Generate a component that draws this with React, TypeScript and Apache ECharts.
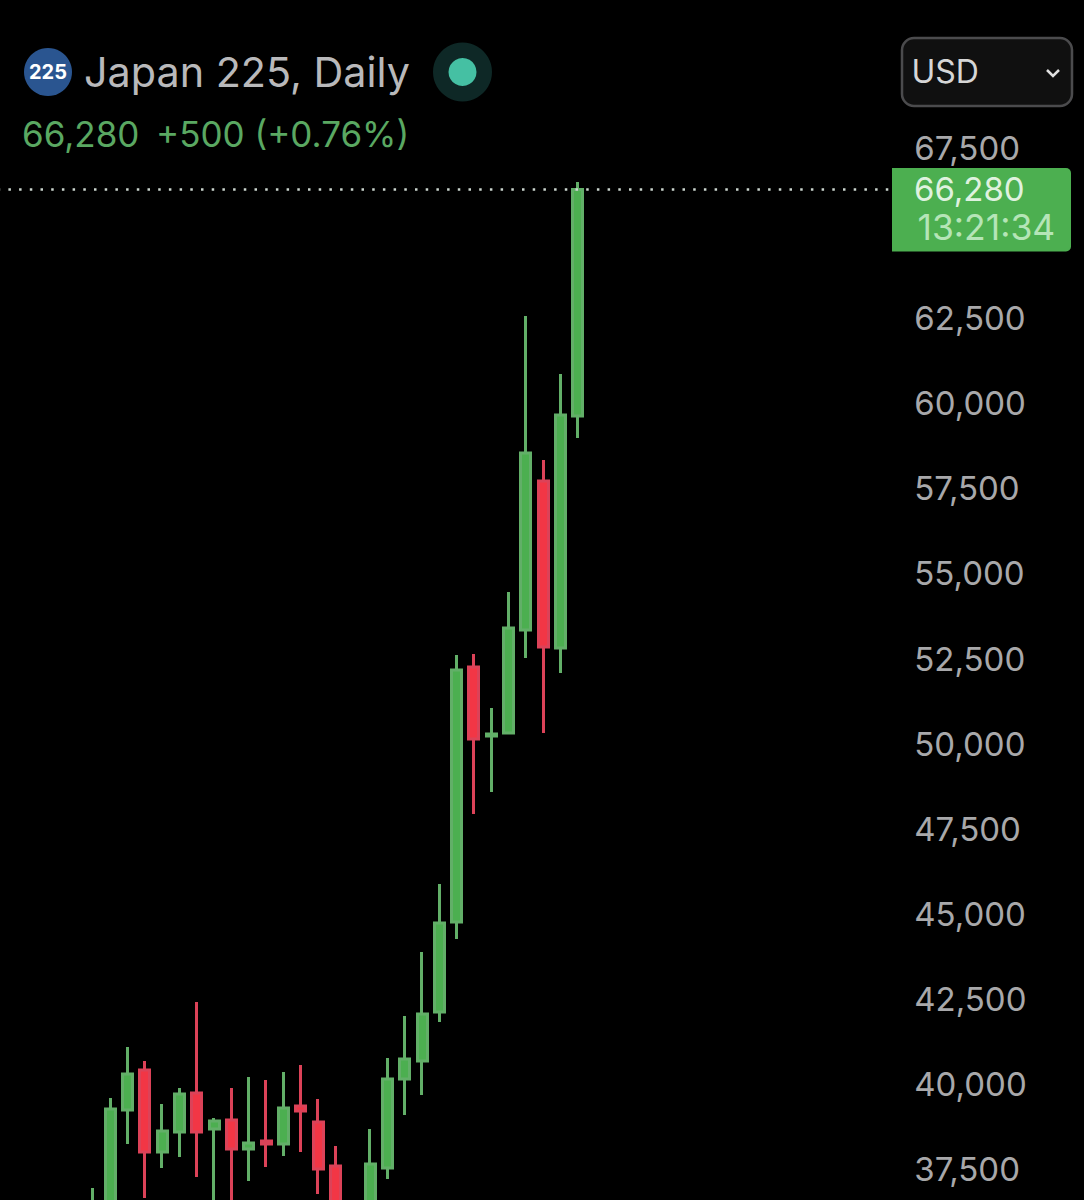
import React, { useEffect, useRef } from "react";
import * as echarts from "echarts";

const priceTicks = [37500, 40000, 42500, 45000, 47500, 50000, 52500, 55000, 57500, 60000, 62500, 67500];
const lastPrice = 66280;

const opens = [36300, 36300, 39236, 40412, 38002, 38590, 39736, 38678, 38943, 38091, 38326, 38238, 39354, 38884, 37591, 36300, 36300, 37532, 40147, 40676, 42116, 44760, 52252, 50225, 50313, 53339, 57716, 52810, 59626];
const closes = [36450, 39266, 40294, 38002, 38619, 39707, 38590, 38913, 38091, 38267, 38238, 39295, 39207, 37503, 36300, 36200, 37650, 40147, 40735, 42057, 44730, 52164, 50136, 50283, 53398, 58539, 52839, 59656, 66280];
const lows = [36100, 36000, 38238, 36651, 37532, 37856, 37268, 36300, 36300, 37150, 37562, 37885, 38002, 36769, 36000, 35800, 36000, 37210, 39090, 39677, 41822, 44260, 47933, 48579, 50283, 52516, 50313, 52075, 58980];
const highs = [36945, 39589, 41088, 40676, 39413, 39883, 42409, 39001, 39883, 40206, 40118, 40353, 40559, 39560, 38179, 36400, 38678, 40764, 41998, 43878, 45876, 52604, 52634, 51047, 54455, 62564, 58333, 60860, 66501];
const leadingSlots = 5;
const trailingSlots = 18;

const GREEN = "#4CAF50";
const GREEN_WICK = "#62af68";
const RED = "#F23645";
const RED_WICK = "#dc4258";
const FONT = "Inter";

const blank = (n: number) => Array.from({ length: n }, () => ["-", "-", "-", "-"]);
const candleRows = opens.map((o, i) => [o, closes[i], lows[i], highs[i]]);
const seriesData = [...blank(leadingSlots), ...candleRows, ...blank(trailingSlots)];
const categories = seriesData.map((_, i) => String(i));

const txt = (text: string, x: number, y: number, fontSize: number, fill: string, fontWeight: any = 400, textAlign: any = "left") => ({
  type: "text",
  z: 102,
  x,
  y,
  style: { text, fontSize, fill, fontWeight, fontFamily: FONT, textAlign, textVerticalAlign: "middle", verticalAlign: "middle" },
});

export default function App() {
  const ref = useRef<HTMLDivElement>(null);
  useEffect(() => {
    document.body.style.margin = "0";
    document.body.style.background = "#000";
    const chart = echarts.init(ref.current!, undefined, { renderer: "svg" });
    chart.setOption({
      animation: false,
      backgroundColor: "#000000",
      grid: { left: -2.3, top: -22.2, width: 900.6, height: 1276.4, containLabel: false, outerBoundsMode: "none" },
      xAxis: { type: "category", data: categories, show: false, boundaryGap: true },
      yAxis: {
        type: "value",
        position: "right",
        min: 35000,
        max: 72500,
        interval: 2500,
        axisLine: { show: false },
        axisTick: { show: false },
        splitLine: { show: false },
        axisLabel: {
          show: true,
          inside: false,
          margin: 16,
          align: "left",
          color: "#a8a8aa",
          fontFamily: FONT,
          fontSize: 33,
          padding: [0, 0, 5, 0],
          formatter: (v: number) => (priceTicks.includes(v) ? v.toLocaleString("en-US") : ""),
        },
      },
      series: [
        {
          type: "candlestick",
          data: seriesData,
          barWidth: 10.5,
          itemStyle: {
            color: GREEN,
            color0: RED,
            borderColor: GREEN_WICK,
            borderColor0: RED_WICK,
            borderWidth: 3,
          },
          markLine: {
            silent: true,
            symbol: "none",
            animation: false,
            label: { show: false },
            lineStyle: { color: "#ccd6cf", type: [2.5, 8.2], width: 2.5 },
            data: [{ yAxis: lastPrice }],
          },
        },
      ],
      graphic: [
        { type: "circle", z: 100, shape: { cx: 48, cy: 72, r: 24 }, style: { fill: "#2a5590" } },
        txt("225", 48, 72, 20, "#ffffff", 700, "center"),
        txt("Japan 225, Daily", 84, 72, 41.3, "#b9b9bb"),
        { type: "circle", z: 100, shape: { cx: 462.5, cy: 72, r: 29.5 }, style: { fill: "#0e2826" } },
        { type: "circle", z: 101, shape: { cx: 462.5, cy: 72, r: 14 }, style: { fill: "#45c0a3" } },
        txt("66,280", 22, 134, 35, "#5aa862"),
        txt("+500 (+0.76%)", 156, 134, 35, "#5aa862"),
        { type: "rect", z: 100, shape: { x: 902, y: 38, width: 170, height: 68, r: 12 }, style: { fill: "#101010", stroke: "#4b4b4d", lineWidth: 2.5 } },
        txt("USD", 911.5, 71, 32, "#d6d6d6"),
        { type: "polyline", z: 101, shape: { points: [[1047, 70], [1053, 76], [1059, 70]] }, style: { stroke: "#e0e0e0", lineWidth: 2.5, fill: "none" } },
        { type: "rect", z: 100, shape: { x: 892, y: 168, width: 179, height: 83.5, r: [0, 5, 5, 0] }, style: { fill: GREEN } },
        txt("66,280", 914, 189, 33, "#dff2df"),
        txt("13:21:34", 917.5, 227, 35.5, "#b5e5b7"),
      ],
    });
    return () => chart.dispose();
  }, []);
  return <div ref={ref} style={{ position: "absolute", left: 0, top: 0, width: 1084, height: 1200 }} />;
}
